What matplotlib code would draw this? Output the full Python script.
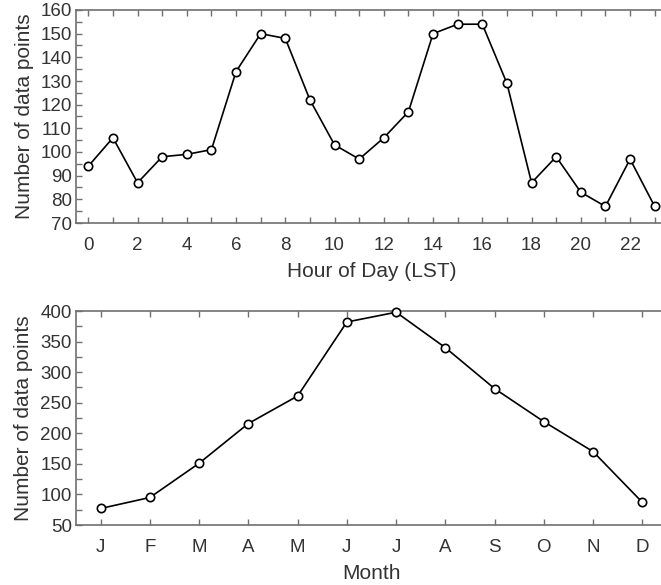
import matplotlib
matplotlib.use("Agg")
import matplotlib.pyplot as plt
from matplotlib.ticker import MultipleLocator

hours = list(range(24))
hour_counts = [94, 106, 87, 98, 99, 101, 134, 150, 148, 122, 103, 97,
               106, 117, 150, 154, 154, 129, 87, 98, 83, 77, 97, 77]

months = list(range(1, 13))
month_labels = ["J", "F", "M", "A", "M", "J", "J", "A", "S", "O", "N", "D"]
month_counts = [77, 95, 151, 216, 261, 382, 398, 340, 273, 219, 170, 87]

plt.rcParams['font.family'] = ['Liberation Sans', 'DejaVu Sans']

W, H = 661, 585
fig = plt.figure(figsize=(W / 100, H / 100), dpi=100)

def px_axes(left, top, right, bottom):
    return fig.add_axes([left / W, (H - bottom) / H, (right - left) / W, (bottom - top) / H])

spine_col = '#707070'
text_col = '#333333'
tick_fs = 13.5
label_fs = 15

def style(ax):
    for s in ax.spines.values():
        s.set_color(spine_col)
        s.set_linewidth(1.2)
    ax.tick_params(which='both', direction='in', top=True, right=True,
                   length=4, width=1.0, color=spine_col, labelcolor=text_col,
                   labelsize=tick_fs)
    ax.tick_params(axis='x', which='both', pad=10)
    ax.tick_params(axis='y', which='both', pad=3)

mk = dict(color='black', lw=1.2, marker='o', markersize=6,
          markerfacecolor='white', markeredgecolor='black', markeredgewidth=1.2,
          clip_on=False, zorder=3)

# Top panel
ax1 = px_axes(76, 10, 667, 223)
ax1.plot(hours, hour_counts, **mk)
ax1.set_xlim(-0.5, 23.5)
ax1.set_ylim(70, 160)
ax1.xaxis.set_major_locator(MultipleLocator(2))
ax1.xaxis.set_minor_locator(MultipleLocator(1))
ax1.yaxis.set_major_locator(MultipleLocator(10))
ax1.yaxis.set_minor_locator(MultipleLocator(5))
style(ax1)
ax1.set_xlabel("Hour of Day (LST)", fontsize=label_fs, color=text_col, labelpad=6)
ax1.set_ylabel("Number of data points", fontsize=label_fs, color=text_col, labelpad=5)

# Bottom panel
ax2 = px_axes(76, 311, 667, 525)
ax2.plot(months, month_counts, **mk)
ax2.set_xlim(0.5, 12.5)
ax2.set_ylim(50, 400)
ax2.set_xticks(months)
ax2.set_xticklabels(month_labels)
ax2.yaxis.set_major_locator(MultipleLocator(50))
ax2.yaxis.set_minor_locator(MultipleLocator(25))
style(ax2)
ax2.set_xlabel("Month", fontsize=label_fs, color=text_col, labelpad=6)
ax2.set_ylabel("Number of data points", fontsize=label_fs, color=text_col, labelpad=5)

fig.savefig("out.png", dpi=100)
